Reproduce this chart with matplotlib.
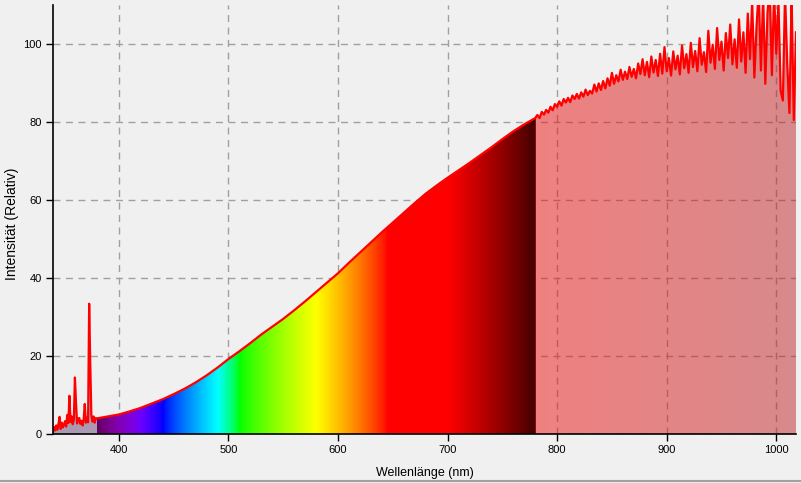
import matplotlib
matplotlib.use("Agg")
import matplotlib.pyplot as plt
import numpy as np

# spectrum readings (wavelength in nm, relative intensity)
uv_nm = list(range(340, 380))
uv_val = [0.6, 1.8, 0.9, 2.2, 1.1, 2.6, 4.4, 1.3, 2.9, 1.7,
          2.4, 3.3, 1.9, 4.9, 2.8, 9.8, 3.1, 4.5, 2.5, 3.6,
          14.5, 7.9, 2.7, 3.9, 4.1, 2.6, 3.4, 2.2, 3.8, 7.7,
          2.9, 4.2, 3.0, 33.4, 18.0, 4.8, 3.2, 4.5, 2.9, 4.1]

vis_nm = list(range(380, 781, 10))
vis_val = [4.0, 4.5, 5.0, 5.8, 6.7, 7.8, 8.9, 10.2, 11.6, 13.2,
           15.0, 17.0, 19.2, 21.2, 23.3, 25.5, 27.5, 29.5, 31.7, 34.0,
           36.4, 38.8, 41.2, 43.9, 46.5, 49.1, 51.7, 54.2, 56.7, 59.2,
           61.6, 63.7, 65.7, 67.6, 69.5, 71.5, 73.5, 75.6, 77.6, 79.4,
           81.0]

ir_nm = list(range(782, 1019, 2))
ir_val = [81.8, 81.0, 82.6, 81.9, 83.1, 82.4, 83.9, 83.0, 84.6, 83.9,
          85.3, 84.2, 85.9, 85.0, 86.2, 85.1, 86.8, 85.9, 87.2, 86.0,
          87.6, 86.5, 88.3, 86.9, 88.0, 87.3, 89.6, 87.8, 89.9, 88.2,
          90.5, 88.6, 91.2, 89.3, 92.6, 89.8, 92.0, 90.4, 93.4, 90.8,
          92.9, 91.0, 94.1, 91.6, 93.6, 91.2, 95.0, 92.3, 96.1, 92.0,
          95.4, 91.5, 96.8, 92.7, 95.9, 91.8, 97.5, 92.4, 99.2, 93.0,
          96.4, 91.9, 98.1, 93.5, 97.0, 92.2, 99.6, 93.8, 97.4, 92.6,
          100.3, 94.1, 98.2, 93.0, 101.5, 94.7, 97.9, 92.8, 103.4, 95.2,
          99.8, 93.6, 104.1, 95.9, 100.6, 93.2, 102.8, 96.4, 105.0, 94.8,
          101.2, 93.9, 106.3, 95.5, 103.0, 92.6, 107.8, 96.1, 111.0, 91.4,
          104.5, 114.0, 93.2, 112.5, 89.8, 108.0, 115.0, 92.0, 113.2, 97.5,
          111.0, 88.0, 85.5, 113.0, 95.0, 82.3, 112.0, 80.5, 103.0]

x_ticks = [400, 500, 600, 700, 800, 900, 1000]
y_ticks = [0, 20, 40, 60, 80, 100]

BG = '#f0f0f0'


def wavelength_rgb(wl):
    """rough visible spectrum colour for a wavelength in nm"""
    if wl < 440:
        r, g, b = (440 - wl) / 60.0, 0.0, 1.0
    elif wl < 490:
        r, g, b = 0.0, (wl - 440) / 50.0, 1.0
    elif wl < 510:
        r, g, b = 0.0, 1.0, (510 - wl) / 20.0
    elif wl < 580:
        r, g, b = (wl - 510) / 70.0, 1.0, 0.0
    elif wl < 645:
        r, g, b = 1.0, (645 - wl) / 65.0, 0.0
    else:
        r, g, b = 1.0, 0.0, 0.0
    if wl < 420:
        f = 0.3 + 0.7 * (wl - 380) / 40.0
    elif wl > 700:
        f = 1.0 - 0.82 * (wl - 700) / 80.0
    else:
        f = 1.0
    return [(r * f) ** 0.8, (g * f) ** 0.8, (b * f) ** 0.8]


nm = np.array(uv_nm + vis_nm + ir_nm, dtype=float)
val = np.array(uv_val + vis_val + ir_val)

plt.rcParams['font.family'] = ['Liberation Sans', 'DejaVu Sans']
fig = plt.figure(figsize=(8.01, 4.83), dpi=100, facecolor=BG)
ax = fig.add_axes([53 / 801, 49 / 483, 743 / 801, 429 / 483], facecolor=BG)
ax.set_axisbelow(True)

# area under the curve, used as clip path for the colour fills
area = ax.fill_between(nm, 0, val, facecolor='none', edgecolor='none')
clip = area.get_paths()[0]

# UV part
uv_img = np.array([[[0xa9 / 255, 0x99 / 255, 0xb3 / 255]]])
im = ax.imshow(uv_img, extent=[340, 380, 0, 120], aspect='auto', zorder=1)
im.set_clip_path(clip, transform=ax.transData)

# visible rainbow
wl = np.arange(380, 781)
rain = np.array([[wavelength_rgb(w) for w in wl]])
im = ax.imshow(rain, extent=[380, 780, 0, 120], aspect='auto', zorder=1,
               interpolation='bilinear')
im.set_clip_path(clip, transform=ax.transData)

# infrared: translucent red fading to greyish
t = np.linspace(0, 1, 200)
c0 = np.array([240, 16, 16]) / 255
c1 = np.array([192, 34, 38]) / 255
ir_rgb = c0[None, :] * (1 - t[:, None]) + c1[None, :] * t[:, None]
ir_img = np.concatenate([ir_rgb, np.full((200, 1), 0.5)], axis=1)[None, :, :]
im = ax.imshow(ir_img, extent=[780, 1018, 0, 120], aspect='auto', zorder=1,
               interpolation='bilinear')
im.set_clip_path(clip, transform=ax.transData)

ax.plot(nm, val, color='#ff0000', lw=1.6, zorder=3)

ax.set_xlim(340, 1018)
ax.set_ylim(0, 110)
ax.set_xticks(x_ticks)
ax.set_yticks(y_ticks)
ax.tick_params(labelsize=8, length=5, width=1, color='black', pad=3)
ax.grid(True, color='#a0a0a0', ls=(0, (5, 4)), lw=1)
for side in ('top', 'right'):
    ax.spines[side].set_visible(False)
for side in ('left', 'bottom'):
    ax.spines[side].set_linewidth(1.2)
    ax.spines[side].set_zorder(4)

ax.set_xlabel('Wellenlänge (nm)', fontsize=9)
ax.set_ylabel('Intensität (Relativ)', fontsize=10)
ax.xaxis.set_label_coords(0.5, -33 / 429)
ax.yaxis.set_label_coords(-34 / 743, 0.49)

fig.add_artist(plt.Line2D([0, 1], [2 / 483, 2 / 483], color='#a0a0a0', lw=1.5,
                          transform=fig.transFigure))

fig.savefig('out.png', dpi=100, facecolor=BG)
